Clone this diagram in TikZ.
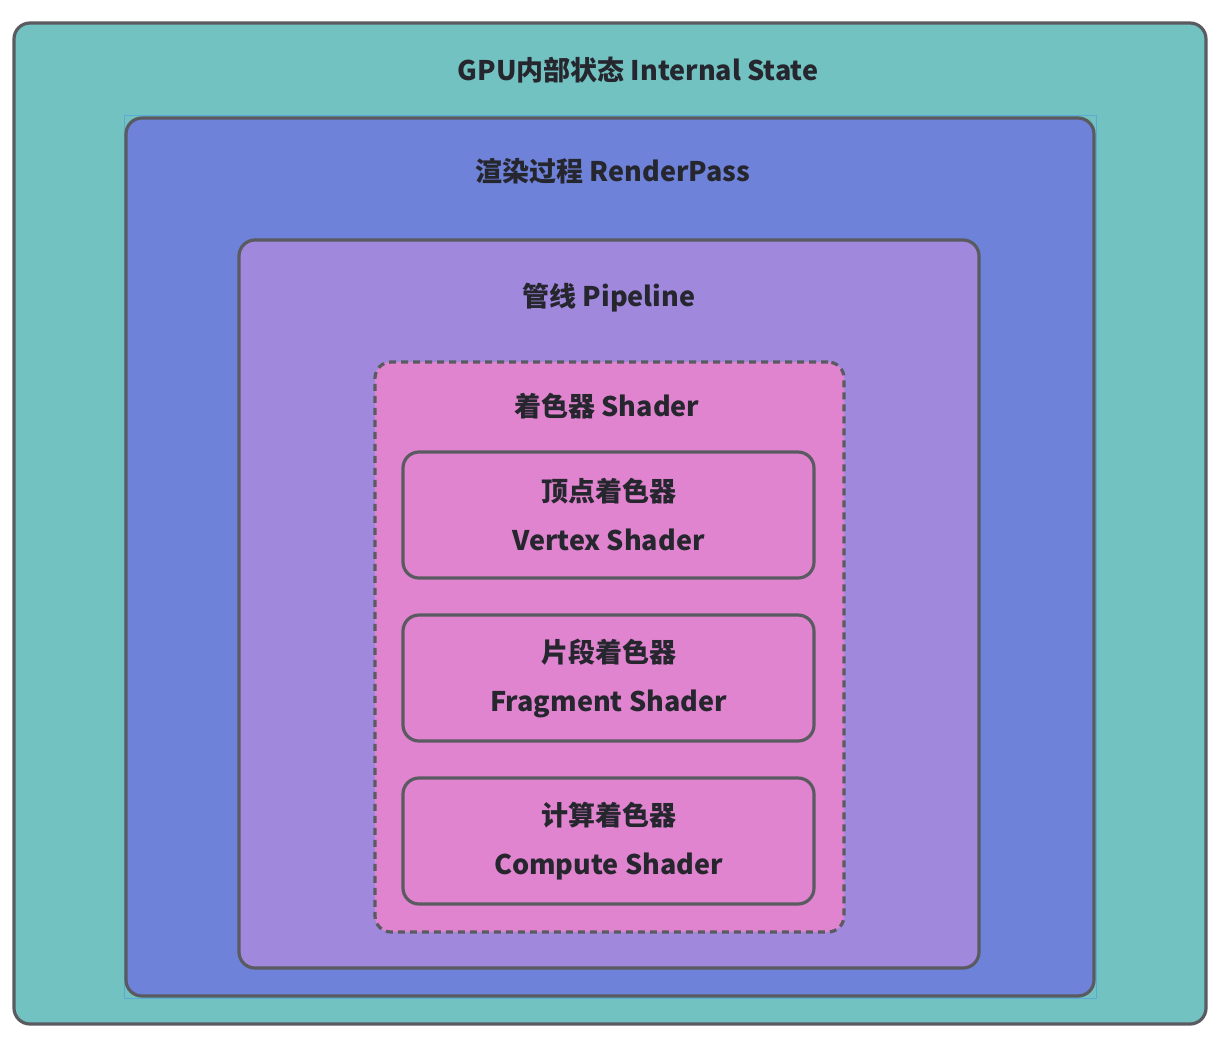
\documentclass[tikz,border=0pt]{standalone}
\usepackage{fontspec}
\setmainfont{Noto Sans CJK SC}
\usetikzlibrary{positioning}

\definecolor{gpuFill}{HTML}{72C2C2}
\definecolor{passFill}{HTML}{6E82D9}
\definecolor{pipeFill}{HTML}{A088DD}
\definecolor{shaderFill}{HTML}{E084CF}
\definecolor{edgeGray}{HTML}{595B60}
\definecolor{textDark}{HTML}{26262E}
\definecolor{selBlue}{HTML}{5AAAD8}

\begin{document}
\begin{tikzpicture}[x=1pt,y=-1pt,
    layer/.style={draw=edgeGray, line width=3.2pt, rounded corners=16pt, inner sep=0pt, outer sep=0pt},
    stage/.style={layer, fill=shaderFill, minimum width=411pt, minimum height=126pt,
                  align=center, text=textDark, font=\fontsize{27}{49}\selectfont\bfseries},
    title/.style={text=textDark, font=\fontsize{27}{30}\selectfont\bfseries, inner sep=0pt}]
            \useasboundingbox (0,0) rectangle (1228,1050);
            % nested layers, outside in
            \node[layer, fill=gpuFill, minimum width=1192pt, minimum height=1001pt]  (gpu)    at (610,523.5) {};
            \node[draw=selBlue, line width=0.8pt, minimum width=972pt, minimum height=883pt, inner sep=0pt] (sel) at (610,556.5) {};
            \node[layer, fill=passFill, minimum width=968pt, minimum height=878pt]   (pass)   at (610,557)   {};
            \node[layer, fill=pipeFill, minimum width=740pt, minimum height=728pt]   (pipe)   at (609,604)   {};
            \node[layer, fill=shaderFill, dashed, dash pattern=on 7pt off 5pt,
                  minimum width=469pt, minimum height=570pt]                         (shader) at (609.5,647) {};
            % titles
            \node[title] (gpu_t)    at (638,70)  {GPU内部状态 Internal State};
            \node[title] (pass_t)   at (613,171) {渲染过程 RenderPass};
            \node[title] (pipe_t)   at (609,298) {管线 Pipeline};
            \node[title] (shader_t) at (607,406) {着色器 Shader};
            % the three shader stages
            \node[stage] (vert) at (608.5,515) {顶点着色器\\Vertex Shader};
            \node[stage] (frag) at (608.5,678) {片段着色器\\Fragment Shader};
            \node[stage] (comp) at (608.5,841) {计算着色器\\Compute Shader};
        \end{tikzpicture}
\end{document}
